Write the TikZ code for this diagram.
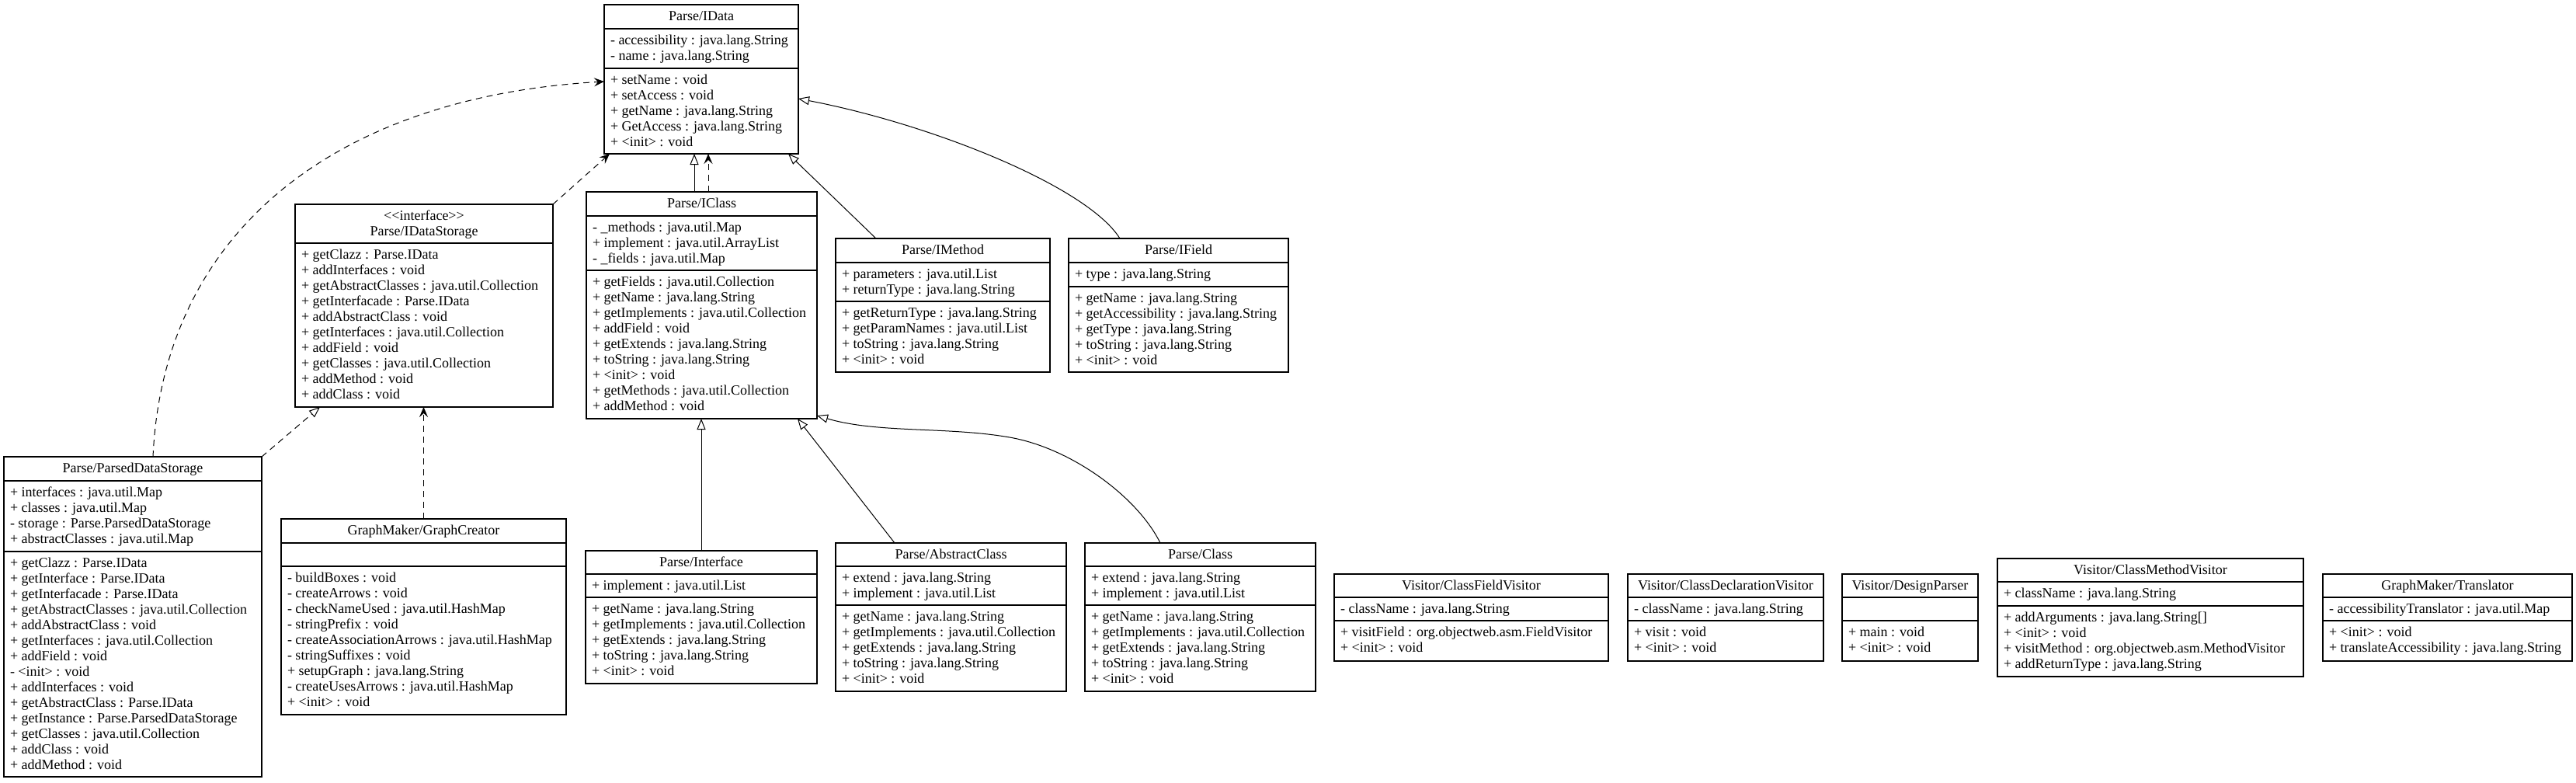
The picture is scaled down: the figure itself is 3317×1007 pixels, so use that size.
\documentclass[tikz,border=0pt]{standalone}
\usepackage{fontspec}
\setmainfont{Liberation Serif}
\usetikzlibrary{arrows.meta}
\tikzset{
  box/.style={draw, line width=1.2pt, anchor=north west, inner sep=0pt, outer sep=0pt},
  sepline/.style={line width=1.2pt},
  txt/.style={inner sep=0pt, outer sep=0pt, font=\fontsize{18}{20}\selectfont},
  gen/.style={line width=1pt, -{Triangle[open, length=14pt, width=11pt, line width=1pt]}},
  dep/.style={line width=1pt, dash pattern=on 8pt off 6pt, -{Stealth[length=13pt, width=11pt, inset=5pt]}},
  real/.style={line width=1pt, dash pattern=on 8pt off 6pt, -{Triangle[open, length=14pt, width=11pt, line width=1pt]}},
}
\newcommand\umlbox[5]{\node[box, minimum width=#4, minimum height=#5] (#1) at (#2,#3) {};}
\newcommand\umlsep[2]{\draw[sepline] ([yshift=-#2pt]#1.north west) -- ([yshift=-#2pt]#1.north east);}
\newcommand\umltitle[3]{\node[txt, anchor=base] (#1-t#2) at ([yshift={-20*#2}]#1.north) {#3};}
\newcommand\umlrows[3]{%
  \foreach \rowtext [count=\i] in {#3} {
    \node[txt, anchor=base west] (#1-#2-\i) at ([xshift=8pt, yshift={-(#2+20*\i)}]#1.north west) {\rowtext};
  }}
\begin{document}
\begin{tikzpicture}[x=1pt, y=-1pt]
\fill[white] (0,0) rectangle (3317,1007);
\useasboundingbox (0,0) rectangle (3317,1007);

% Parse/IData
\umlbox{idata}{778}{6}{250}{192}
\umlsep{idata}{31}\umlsep{idata}{82}
\umltitle{idata}{1}{Parse/IData}
\umlrows{idata}{31}{- accessibility : java.lang.String, - name : java.lang.String}
\umlrows{idata}{82}{+ setName : void, + setAccess : void, + getName : java.lang.String, + GetAccess : java.lang.String, + <init> : void}

% Parse/IDataStorage
\umlbox{ids}{380}{263}{332}{261}
\umlsep{ids}{50}
\umltitle{ids}{1}{<{}<interface>{}>}
\umltitle{ids}{2}{Parse/IDataStorage}
\umlrows{ids}{50}{+ getClazz : Parse.IData, + addInterfaces : void, + getAbstractClasses : java.util.Collection, + getInterfacade : Parse.IData, + addAbstractClass : void, + getInterfaces : java.util.Collection, + addField : void, + getClasses : java.util.Collection, + addMethod : void, + addClass : void}

% Parse/IClass
\umlbox{iclass}{755}{247}{297}{292}
\umlsep{iclass}{31}\umlsep{iclass}{101}
\umltitle{iclass}{1}{Parse/IClass}
\umlrows{iclass}{31}{- \_methods : java.util.Map, + implement : java.util.ArrayList, - \_fields : java.util.Map}
\umlrows{iclass}{101}{+ getFields : java.util.Collection, + getName : java.lang.String, + getImplements : java.util.Collection, + addField : void, + getExtends : java.lang.String, + toString : java.lang.String, + <init> : void, + getMethods : java.util.Collection, + addMethod : void}

% Parse/IMethod
\umlbox{imethod}{1076}{307}{276}{172}
\umlsep{imethod}{31}\umlsep{imethod}{81}
\umltitle{imethod}{1}{Parse/IMethod}
\umlrows{imethod}{31}{+ parameters : java.util.List, + returnType : java.lang.String}
\umlrows{imethod}{81}{+ getReturnType : java.lang.String, + getParamNames : java.util.List, + toString : java.lang.String, + <init> : void}

% Parse/IField
\umlbox{ifield}{1376}{307}{283}{172}
\umlsep{ifield}{31}\umlsep{ifield}{62}
\umltitle{ifield}{1}{Parse/IField}
\umlrows{ifield}{31}{+ type : java.lang.String}
\umlrows{ifield}{62}{+ getName : java.lang.String, + getAccessibility : java.lang.String, + getType : java.lang.String, + toString : java.lang.String, + <init> : void}

% Parse/ParsedDataStorage
\umlbox{pds}{5}{588}{332}{412}
\umlsep{pds}{31}\umlsep{pds}{122}
\umltitle{pds}{1}{Parse/ParsedDataStorage}
\umlrows{pds}{31}{+ interfaces : java.util.Map, + classes : java.util.Map, - storage : Parse.ParsedDataStorage, + abstractClasses : java.util.Map}
\umlrows{pds}{122}{+ getClazz : Parse.IData, + getInterface : Parse.IData, + getInterfacade : Parse.IData, + getAbstractClasses : java.util.Collection, + addAbstractClass : void, + getInterfaces : java.util.Collection, + addField : void, - <init> : void, + addInterfaces : void, + getAbstractClass : Parse.IData, + getInstance : Parse.ParsedDataStorage, + getClasses : java.util.Collection, + addClass : void, + addMethod : void}

% GraphMaker/GraphCreator
\umlbox{gc}{362}{668}{367}{252}
\umlsep{gc}{31}\umlsep{gc}{61}
\umltitle{gc}{1}{GraphMaker/GraphCreator}
\umlrows{gc}{61}{- buildBoxes : void, - createArrows : void, - checkNameUsed : java.util.HashMap, - stringPrefix : void, - createAssociationArrows : java.util.HashMap, - stringSuffixes : void, + setupGraph : java.lang.String, - createUsesArrows : java.util.HashMap, + <init> : void}

% Parse/Interface
\umlbox{iface}{754}{709}{298}{171}
\umlsep{iface}{30}\umlsep{iface}{60}
\umltitle{iface}{1}{Parse/Interface}
\umlrows{iface}{30}{+ implement : java.util.List}
\umlrows{iface}{60}{+ getName : java.lang.String, + getImplements : java.util.Collection, + getExtends : java.lang.String, + toString : java.lang.String, + <init> : void}

% Parse/AbstractClass
\umlbox{abst}{1076}{699}{297}{191}
\umlsep{abst}{30}\umlsep{abst}{80}
\umltitle{abst}{1}{Parse/AbstractClass}
\umlrows{abst}{30}{+ extend : java.lang.String, + implement : java.util.List}
\umlrows{abst}{80}{+ getName : java.lang.String, + getImplements : java.util.Collection, + getExtends : java.lang.String, + toString : java.lang.String, + <init> : void}

% Parse/Class
\umlbox{cls}{1397}{699}{297}{191}
\umlsep{cls}{30}\umlsep{cls}{80}
\umltitle{cls}{1}{Parse/Class}
\umlrows{cls}{30}{+ extend : java.lang.String, + implement : java.util.List}
\umlrows{cls}{80}{+ getName : java.lang.String, + getImplements : java.util.Collection, + getExtends : java.lang.String, + toString : java.lang.String, + <init> : void}

% Visitor/ClassFieldVisitor
\umlbox{cfv}{1718}{739}{353}{112}
\umlsep{cfv}{30}\umlsep{cfv}{60}
\umltitle{cfv}{1}{Visitor/ClassFieldVisitor}
\umlrows{cfv}{30}{- className : java.lang.String}
\umlrows{cfv}{60}{+ visitField : org.objectweb.asm.FieldVisitor, + <init> : void}

% Visitor/ClassDeclarationVisitor
\umlbox{cdv}{2096}{739}{252}{112}
\umlsep{cdv}{30}\umlsep{cdv}{60}
\umltitle{cdv}{1}{Visitor/ClassDeclarationVisitor}
\umlrows{cdv}{30}{- className : java.lang.String}
\umlrows{cdv}{60}{+ visit : void, + <init> : void}

% Visitor/DesignParser
\umlbox{dp}{2372}{739}{175}{112}
\umlsep{dp}{30}\umlsep{dp}{60}
\umltitle{dp}{1}{Visitor/DesignParser}
\umlrows{dp}{60}{+ main : void, + <init> : void}

% Visitor/ClassMethodVisitor
\umlbox{cmv}{2572}{719}{394}{152}
\umlsep{cmv}{30}\umlsep{cmv}{61}
\umltitle{cmv}{1}{Visitor/ClassMethodVisitor}
\umlrows{cmv}{30}{+ className : java.lang.String}
\umlrows{cmv}{61}{+ addArguments : java.lang.String[], + <init> : void, + visitMethod : org.objectweb.asm.MethodVisitor, + addReturnType : java.lang.String}

% GraphMaker/Translator
\umlbox{tr}{2991}{739}{321}{112}
\umlsep{tr}{30}\umlsep{tr}{60}
\umltitle{tr}{1}{GraphMaker/Translator}
\umlrows{tr}{30}{- accessibilityTranslator : java.util.Map}
\umlrows{tr}{60}{+ <init> : void, + translateAccessibility : java.lang.String}

% connectors
\draw[dep] ([xshift=192pt]pds.north west) .. controls (210,300) and (430,125) .. ([yshift=-99pt]idata.north west);
\draw[dep] (ids.north east) -- ([xshift=7pt]idata.south west);
\draw[real] (pds.north east) -- ([xshift=32pt]ids.south west);
\draw[dep] (gc.north) -- (gc.north |- ids.south);
\draw[gen] ([xshift=139pt]iclass.north west) -- ([xshift=116pt]idata.south west);
\draw[dep] ([xshift=157pt]iclass.north west) -- ([xshift=134pt]idata.south west);
\draw[gen] ([xshift=52pt]imethod.north west) -- ([xshift=237pt]idata.south west);
\draw[gen] ([xshift=66pt]ifield.north west) .. controls (1400,240) and (1200,160) .. ([yshift=-121pt]idata.north east);
\draw[gen] ([xshift=149pt]iface.north west) -- ([xshift=148pt]iclass.south west);
\draw[gen] ([xshift=76pt]abst.north west) -- ([xshift=272pt]iclass.south west);
\draw[gen] ([xshift=97pt]cls.north west) .. controls (1465,640) and (1380,577) .. (1300,563) .. controls (1220,549) and (1130,558) .. ([yshift=4pt]iclass.south east);
\end{tikzpicture}
\end{document}
